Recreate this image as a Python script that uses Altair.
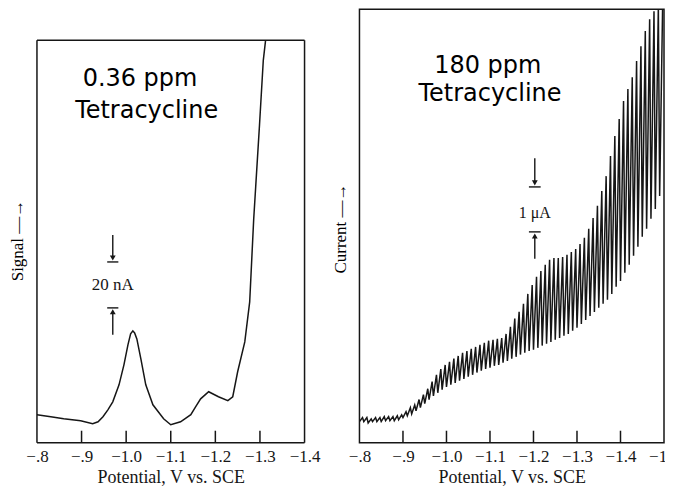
import altair as alt
import pandas as pd

SERIF = "Liberation Serif"
SANS = "DejaVu Sans"
INK = "#161616"

# ---------------- Left panel: 0.36 ppm tetracycline (signal, nA) ----------------
left_potential = [-0.800, -0.831, -0.860, -0.898, -0.925, -0.937, -0.948, -0.959, -0.970, -0.984,
                  -0.995, -1.004, -1.010, -1.015, -1.019, -1.024, -1.033, -1.044, -1.060, -1.084,
                  -1.100, -1.122, -1.145, -1.156, -1.167, -1.185, -1.207, -1.228, -1.239, -1.250,
                  -1.266, -1.277, -1.286, -1.299, -1.3075, -1.3126]
left_signal = [12.2, 11.3, 10.4, 9.6, 8.3, 9.1, 11.3, 14.3, 17.8, 25.2,
               33.9, 42.6, 47.4, 48.7, 47.8, 45.2, 36.5, 25.2, 16.5, 10.4,
               7.8, 9.1, 12.2, 15.7, 19.1, 22.2, 20.0, 18.3, 20.0, 30.9,
               43.9, 61.3, 97.4, 138.3, 166.5, 175.2]
left_frame = [-0.8, -1.4, 0.0, 175.2]      # x-left, x-right, y-bottom, y-top of the plot box
left_ticks = [-0.9, -1.0, -1.1, -1.2, -1.3]
left_labels = [-0.8, -0.9, -1.0, -1.1, -1.2, -1.3, -1.4]
left_text = ["0.36 ppm", "Tetracycline"]
left_text_x = [-1.031, -1.046]
left_text_y = [155.2, 141.3]
# scale bar (20 nA)
left_bar_x = -0.970
left_bar_levels = [78.7, 58.7]          # the two bars, 20 nA apart
left_shafts = [(90.4, 80.4), (57.0, 47.0)]
left_heads_y = [80.4, 57.0]

# ---------------- Right panel: 180 ppm tetracycline (current, uA) ----------------
right_drop_potential = [
    -0.80, -0.81, -0.82, -0.83, -0.84, -0.85, -0.86, -0.87, -0.88, -0.89,
    -0.90, -0.91, -0.92, -0.93, -0.94, -0.95, -0.96, -0.97, -0.98, -0.99,
    -1.00, -1.01, -1.02, -1.03, -1.04, -1.05, -1.06, -1.07, -1.08, -1.09,
    -1.10, -1.11, -1.12, -1.13, -1.14, -1.15, -1.16, -1.17, -1.18, -1.19,
    -1.20, -1.21, -1.22, -1.23, -1.24, -1.25, -1.26, -1.27, -1.28, -1.29,
    -1.30, -1.31, -1.32, -1.33, -1.34, -1.35, -1.36, -1.37, -1.38, -1.39,
    -1.40, -1.41, -1.42, -1.43, -1.44, -1.45, -1.46, -1.47, -1.48, -1.49]
right_low = [
    0.47, 0.47, 0.44, 0.47, 0.47, 0.47, 0.49, 0.49, 0.49, 0.51,
    0.56, 0.60, 0.64, 0.71, 0.78, 0.87, 0.96, 1.04, 1.11, 1.18,
    1.24, 1.29, 1.33, 1.38, 1.42, 1.47, 1.51, 1.56, 1.60, 1.64,
    1.67, 1.71, 1.73, 1.78, 1.82, 1.87, 1.91, 1.96, 2.00, 2.04,
    2.07, 2.11, 2.16, 2.20, 2.24, 2.29, 2.33, 2.38, 2.42, 2.49,
    2.56, 2.64, 2.73, 2.82, 2.91, 3.00, 3.09, 3.18, 3.31, 3.47,
    3.60, 3.78, 3.96, 4.16, 4.36, 4.58, 4.76, 4.98, 5.20, 5.49]
right_high = [
    0.56, 0.56, 0.53, 0.56, 0.56, 0.58, 0.58, 0.58, 0.60, 0.62,
    0.69, 0.78, 0.84, 0.96, 1.07, 1.20, 1.36, 1.51, 1.64, 1.73,
    1.80, 1.87, 1.93, 2.00, 2.04, 2.09, 2.13, 2.18, 2.22, 2.27,
    2.29, 2.31, 2.33, 2.42, 2.58, 2.76, 2.91, 3.09, 3.31, 3.51,
    3.69, 3.82, 3.96, 4.07, 4.11, 4.11, 4.13, 4.18, 4.24, 4.31,
    4.42, 4.56, 4.76, 5.00, 5.27, 5.60, 5.93, 6.38, 6.82, 7.20,
    7.60, 7.87, 8.13, 8.49, 8.82, 9.16, 9.42, 9.60, 9.71, 9.82]
right_ticks = [-0.9, -1.0, -1.1, -1.2, -1.3, -1.4]
right_labels = [-0.8, -0.9, -1.0, -1.1, -1.2, -1.3, -1.4, -1.5]
right_text = ["180 ppm", "Tetracycline"]
right_text_x = [-1.095, -1.100]
right_text_y = [8.22, 7.60]
right_bar_x = -1.203
right_bar_levels = [5.69, 4.69]         # 1 uA apart
right_shafts = [(6.33, 5.78), (4.60, 4.09)]
right_heads_y = [5.78, 4.60]

DROP_RISE = 0.007  # part of each drop interval over which the current grows
PLOT_H = 434

LABEL_EXPR = ("datum.value > -0.95 ? '\u2212' + substring(format(-datum.value, '.1f'), 1)"
              " : '\u2212' + format(-datum.value, '.1f')")


def x_axis(values):
    return alt.Axis(values=values, labelExpr=LABEL_EXPR, ticks=False, domain=False, grid=False,
                    labelFlush=False, labelOverlap=False,
                    labelFont=SERIF, labelFontSize=17, labelColor=INK, labelPadding=6,
                    title="Potential, V vs. SCE", titleFont=SERIF, titleFontSize=18,
                    titleFontWeight="normal", titleColor=INK, titlePadding=4)


def y_axis(title, title_y):
    return alt.Axis(title=title, labels=False, ticks=False, domain=False, grid=False,
                    titleFont=SERIF, titleFontSize=17, titleFontWeight="normal",
                    titleColor="black", titlePadding=10, titleY=title_y)


def panel(curve_df, xs, ys, xaxis_values, ytitle, title_y, tick_vals,
          texts, tx, ty, bar_x, bar_half, bar_levels, shafts, heads_y, bar_label, bar_label_y,
          bar_font):
    x_enc = alt.X("V:Q", scale=xs, axis=x_axis(xaxis_values))
    y_enc = alt.Y("I:Q", scale=ys, axis=y_axis(ytitle, title_y))
    curve = alt.Chart(curve_df).mark_line(color=INK, strokeWidth=1.5, clip=True).encode(
        x=x_enc, y=y_enc, order="o:Q")

    ticks = alt.Chart(pd.DataFrame({"t": tick_vals})).mark_rule(color=INK, strokeWidth=1.5).encode(
        x=alt.X("t:Q", scale=xs), y=alt.value(PLOT_H), y2=alt.value(PLOT_H - 12))

    bars = alt.Chart(pd.DataFrame({
        "x1": [bar_x - bar_half] * len(bar_levels),
        "x2": [bar_x + bar_half] * len(bar_levels),
        "y": bar_levels})).mark_rule(color=INK, strokeWidth=1.4).encode(
        x=alt.X("x1:Q", scale=xs), x2="x2:Q", y=alt.Y("y:Q", scale=ys))

    shaft = alt.Chart(pd.DataFrame({
        "x": [bar_x] * len(shafts),
        "y1": [s[0] for s in shafts],
        "y2": [s[1] for s in shafts]})).mark_rule(color=INK, strokeWidth=1.4).encode(
        x=alt.X("x:Q", scale=xs), y=alt.Y("y1:Q", scale=ys), y2="y2:Q")

    heads = alt.Chart(pd.DataFrame({
        "x": [bar_x, bar_x],
        "y": heads_y,
        "s": ["triangle-down", "triangle-up"]})).mark_point(
        filled=True, color=INK, size=34, opacity=1).encode(
        x=alt.X("x:Q", scale=xs), y=alt.Y("y:Q", scale=ys),
        shape=alt.Shape("s:N", scale=alt.Scale(domain=["triangle-down", "triangle-up"],
                                               range=["triangle-down", "triangle-up"]),
                        legend=None))

    blabel = alt.Chart(pd.DataFrame({"x": [bar_x], "y": [bar_label_y], "t": [bar_label]})).mark_text(
        font=SERIF, fontSize=bar_font, color=INK, baseline="middle", align="center").encode(
        x=alt.X("x:Q", scale=xs), y=alt.Y("y:Q", scale=ys), text="t:N")

    annot = alt.Chart(pd.DataFrame({"x": tx, "y": ty, "t": texts})).mark_text(
        font=SANS, fontSize=24, color="black", baseline="alphabetic", align="center").encode(
        x=alt.X("x:Q", scale=xs), y=alt.Y("y:Q", scale=ys), text="t:N")

    return [curve, ticks, bars, shaft, heads, blabel, annot]


# ---- tables ----
left_df = pd.DataFrame({"V": left_potential, "I": left_signal, "o": range(len(left_potential))})

rows = []
for i, (v, lo, hi) in enumerate(zip(right_drop_potential, right_low, right_high)):
    rows.append({"V": v, "I": lo, "o": 2 * i})
    rows.append({"V": v - DROP_RISE, "I": hi, "o": 2 * i + 1})
right_df = pd.DataFrame(rows)

# left panel box is shorter than the right one: the y scale extends above the drawn box
left_top_nA = left_frame[3] * PLOT_H / 403.0
xs_left = alt.Scale(domain=[-1.4, -0.8], reverse=True, nice=False, zero=False)
ys_left = alt.Scale(domain=[0, left_top_nA], nice=False, zero=False)
xs_right = alt.Scale(domain=[-1.5, -0.8], reverse=True, nice=False, zero=False)
ys_right = alt.Scale(domain=[0, 9.64], nice=False, zero=False)

frame_df = pd.DataFrame({
    "x1": [left_frame[0], left_frame[0], left_frame[1], left_frame[0]],
    "x2": [left_frame[1], left_frame[0], left_frame[1], left_frame[1]],
    "y1": [left_frame[3], left_frame[2], left_frame[2], left_frame[2]],
    "y2": [left_frame[3], left_frame[3], left_frame[3], left_frame[2]],
})
left_box = alt.Chart(frame_df).mark_rule(color=INK, strokeWidth=1.5).encode(
    x=alt.X("x1:Q", scale=xs_left), x2="x2:Q", y=alt.Y("y1:Q", scale=ys_left), y2="y2:Q")

left_layers = panel(left_df, xs_left, ys_left, left_labels, "Signal \u2014\u2192", 231, left_ticks,
                    left_text, left_text_x, left_text_y, left_bar_x, 0.0125, left_bar_levels,
                    left_shafts, left_heads_y, "20 nA", 68.7, 17)
left = alt.layer(*left_layers, left_box).properties(
    width=268, height=PLOT_H, view=alt.ViewBackground(stroke="transparent"))

right_layers = panel(right_df, xs_right, ys_right, right_labels, "Current \u2014\u2192", 219,
                     right_ticks,
                     right_text, right_text_x, right_text_y, right_bar_x, 0.0135, right_bar_levels,
                     right_shafts, right_heads_y, "1 \u03bcA", 5.11, 16)
right = alt.layer(*right_layers).properties(width=305, height=PLOT_H)

chart = alt.hconcat(left, right, spacing=9).resolve_scale(
    x="independent", y="independent", shape="independent").properties(
    padding={"left": 0, "top": 0, "right": -16, "bottom": 0},
    background="white").configure_view(stroke=INK, strokeWidth=1.5)

chart.save("out.html", embed_options={"renderer": "svg", "actions": False})
